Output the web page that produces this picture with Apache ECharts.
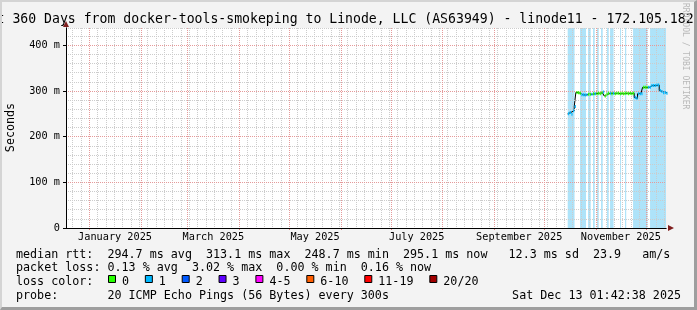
<!DOCTYPE html>
<html><head><meta charset="utf-8">
<script src="https://cdn.jsdelivr.net/npm/echarts@6/dist/echarts.min.js"></script>
<style>
html,body{margin:0;padding:0;background:#f3f3f3;}
#c{position:absolute;left:0;top:0;width:697px;height:310px;}
#frame{position:absolute;left:0;top:0;width:697px;height:310px;box-sizing:border-box;border-style:solid;border-width:2px 3px 3px 2px;border-color:#d4d4d4 #9e9e9e #9e9e9e #d4d4d4;pointer-events:none;}
</style></head><body>
<div id="c"></div><div id="frame"></div>
<script>
// ---------- data ----------
const chartTitle = 'Last 360 Days from docker-tools-smokeping to Linode, LLC (AS63949) - linode11 - 172.105.182.108';
const chartEnd = [2025, 12, 13, 1, 42, 38];   // Sat Dec 13 01:42:38 2025
const spanDays = 360;
const monthStarts = ['2025-01-01','2025-02-01','2025-03-01','2025-04-01','2025-05-01','2025-06-01',
                     '2025-07-01','2025-08-01','2025-09-01','2025-10-01','2025-11-01','2025-12-01','2026-01-01'];
const monthLabels = ['January 2025','March 2025','May 2025','July 2025','September 2025','November 2025'];
const labelMonthIndex = [0, 2, 4, 6, 8, 10];
const yTickValues = [0, 100, 200, 300, 400];
const yTickLabels = ['0', '100 m', '200 m', '300 m', '400 m'];
const yMax = 438;

// days since 2025-01-01 00:00
const sampleDays = [287,288,289,290,291,292,293,294,295,296,297,298,299,300,301,302,303,304,305,306,
                    307,308,309,310,311,312,313,314,315,316,317,318,319,320,321,322,323,324,325,326,
                    327,328,329,330,331,332,333,334,335,336,337,338,339,340,341,342,343,344,345,346];
const medianMs = [250,253,249,257,266,297,296,295,292,292,291,292,293,293,293,294,294,294,295,294,
                  296,298,289,293,295,295,294,295,294,295,295,294,295,294,295,295,294,295,294,295,
                  286,284,294,294,294,308,308,308,308,308,312,312,312,313,313,301,299,296,297,295];
const lossPings = [1,1,1,1,1,0,0,0,1,1,1,1,0,0,1,0,1,0,0,0,
                   0,1,0,0,0,1,0,1,0,0,0,0,0,0,0,0,0,0,0,0,
                   1,1,1,1,1,0,0,0,1,1,1,1,1,1,1,1,1,1,1,1];
const bandStart = [287.1, 294.5, 299.3, 302.3, 304.7, 307.1, 310.7, 312.5, 318.5, 321.5, 326.3, 336.5];
const bandEnd   = [291.2, 298.1, 300.9, 303.3, 305.7, 308.1, 311.7, 314.6, 319.1, 322.2, 334.9, 346.1];

const lossLabels = ['0','1','2','3','4-5','6-10','11-19','20/20'];
const lossUpper  = [0, 1, 2, 3, 5, 10, 19, 20];
const lossColors = ['#26ff00','#00b8ff','#0059ff','#5e00ff','#ff00ff','#ff5e00','#ff0000','#a10000'];

const footRtt   = 'median rtt:  294.7 ms avg  313.1 ms max  248.7 ms min  295.1 ms now   12.3 ms sd  23.9   am/s';
const footLoss  = 'packet loss: 0.13 % avg  3.02 % max  0.00 % min  0.16 % now';
const footColor = 'loss color:';
const footProbe = 'probe:       20 ICMP Echo Pings (56 Bytes) every 300s';
const footDate  = 'Sat Dec 13 01:42:38 2025';
const watermark = 'RRDTOOL / TOBI OETIKER';
const yUnitName = 'Seconds';

// ---------- helpers ----------
const DAY = 86400000, BASE = Date.UTC(2025, 0, 1);
const dayOf = s => (Date.parse(s + 'T00:00:00Z') - BASE) / DAY;
const endDay = (Date.UTC(chartEnd[0], chartEnd[1]-1, chartEnd[2], chartEnd[3], chartEnd[4], chartEnd[5]) - BASE) / DAY;
const startDay = endDay - spanDays;
const monthDays = monthStarts.map(dayOf).filter(d => d >= startDay && d <= endDay);
const labelDays = labelMonthIndex.map(i => (dayOf(monthStarts[i]) + dayOf(monthStarts[i+1])) / 2);
const minorDays = [];
for (let d = Math.ceil(startDay / 5) * 5; d <= endDay; d += 5) minorDays.push(d);
const lossClass = n => { for (let i = 0; i < lossUpper.length; i++) if (n <= lossUpper[i]) return i; return 7; };

const MONO = '"DejaVu Sans Mono", monospace';
const FS_TITLE = 13.16, FS_LEG = 11.7, FS_AXIS = 10.24, FS_WM = 8.04;
const CW = FS_LEG * 0.6021;
const MAJ = '#e59a9a', MIN = '#cccccc';

const stepData = sampleDays.map((d, i) => [d, medianMs[i]]);
stepData.push([sampleDays[sampleDays.length-1] + 1, medianMs[medianMs.length-1]]);
const segData = sampleDays.map((d, i) => [d, medianMs[i], lossPings[i], (i + 1 < sampleDays.length ? sampleDays[i+1] : d + 1)]);

// ---------- graphic (texts) ----------
const graphic = [];
graphic.push({type:'text', x:-27.2, y:19.5, silent:true,
  style:{text:chartTitle, font:FS_TITLE+'px '+MONO, fill:'#000', align:'left', verticalAlign:'middle'}});
graphic.push({type:'text', x:685.5, y:3, rotation:-Math.PI/2, silent:true,
  style:{text:watermark, font:FS_WM+'px '+MONO, fill:'#b8b8b8', align:'left', verticalAlign:'middle'}});
graphic.push({type:'text', x:11, y:127.5, rotation:Math.PI/2, silent:true,
  style:{text:yUnitName, font:FS_LEG+'px '+MONO, fill:'#000', align:'center', verticalAlign:'middle'}});
const rowY = [254.8, 268.3, 281.8, 295.5];
[footRtt, footLoss, footColor, footProbe].forEach((t, i) => {
  graphic.push({type:'text', x:16, y:rowY[i], silent:true,
    style:{text:t, font:FS_LEG+'px '+MONO, fill:'#000', align:'left', verticalAlign:'middle'}});
});
graphic.push({type:'text', x:681, y:rowY[3], silent:true,
  style:{text:footDate, font:FS_LEG+'px '+MONO, fill:'#000', align:'right', verticalAlign:'middle'}});
let sx = 108;
lossLabels.forEach((lab, i) => {
  graphic.push({type:'rect', silent:true, shape:{x:sx+0.5, y:275.5, width:7, height:7},
    style:{fill:lossColors[i], stroke:'#000', lineWidth:1}});
  const lx = sx + 14;
  graphic.push({type:'text', x:lx, y:rowY[2], silent:true,
    style:{text:lab, font:FS_LEG+'px '+MONO, fill:'#000', align:'left', verticalAlign:'middle'}});
  sx = lx + lab.length * CW + 15.8;
});

// ---------- chart ----------
const chart = echarts.init(document.getElementById('c'), null, {renderer:'canvas'});
const common = {type:'value', min:startDay, max:endDay, position:'bottom', gridIndex:0};
chart.setOption({
  animation:false,
  backgroundColor:'transparent',
  grid:{left:66, top:28, width:600, height:200, show:true, backgroundColor:'#ffffff', borderWidth:0, containLabel:false, outerBoundsMode:'none'},
  xAxis:[
    Object.assign({}, common, {z:5,
      axisLine:{show:true, onZero:false, lineStyle:{color:'#000', width:1}},
      axisTick:{show:false},
      axisLabel:{show:true, customValues:labelDays, margin:4, color:'#000', fontFamily:MONO, fontSize:FS_AXIS,
        formatter:(v) => { const k = labelDays.findIndex(x => Math.abs(x - v) < 1e-6); return k >= 0 ? monthLabels[k] : ''; }},
      splitLine:{show:false}}),
    Object.assign({}, common, {z:3,
      axisLine:{show:false}, axisTick:{show:false, customValues:minorDays}, axisLabel:{show:false},
      splitLine:{show:true, lineStyle:{color:MIN, width:1, type:[1,1]}}}),
    Object.assign({}, common, {z:4,
      axisLine:{show:true, onZero:false, symbol:['none','triangle'], symbolSize:[6,6], symbolOffset:[0,5], lineStyle:{color:'#7f1f1f', width:1}},
      axisTick:{show:true, customValues:monthDays, length:2, lineStyle:{color:'#e08080'}}, axisLabel:{show:false},
      splitLine:{show:true, lineStyle:{color:MAJ, width:1, type:[1,1]}}})
  ],
  yAxis:[
    {type:'value', min:0, max:yMax, interval:20, position:'left', z:3,
      axisLine:{show:false}, axisTick:{show:false}, axisLabel:{show:false},
      splitLine:{show:true, lineStyle:{color:MIN, width:1, type:[1,1]}}},
    {type:'value', min:0, max:yMax, position:'left', z:4,
      axisLine:{show:true, onZero:false, symbol:['none','triangle'], symbolSize:[6,6], symbolOffset:[0,4], lineStyle:{color:'#7f1f1f', width:1}},
      axisTick:{show:true, customValues:yTickValues, length:3, lineStyle:{color:'#000'}},
      axisLabel:{show:true, customValues:yTickValues, margin:6, color:'#000', fontFamily:MONO, fontSize:FS_AXIS,
        formatter:(v) => { const k = yTickValues.indexOf(v); return k >= 0 ? yTickLabels[k] : ''; }},
      splitLine:{show:true, lineStyle:{color:MAJ, width:1, type:[1,1]}}},
    {type:'value', min:0, max:yMax, position:'left', z:5,
      axisLine:{show:true, onZero:false, lineStyle:{color:'#000', width:1}},
      axisTick:{show:false}, axisLabel:{show:false}, splitLine:{show:false}}
  ],
  series:[
    {type:'custom', name:'bands', xAxisIndex:0, yAxisIndex:0, z:1, silent:true,
      data: bandStart.map((s, i) => [s, bandEnd[i]]),
      encode:{x:[0,1]},
      renderItem:(params, api) => {
        const p0 = api.coord([api.value(0), yMax]);
        const p1 = api.coord([api.value(1), 0]);
        const cs = params.coordSys;
        const x0 = Math.max(p0[0], cs.x), x1 = Math.min(p1[0], cs.x + cs.width);
        return {type:'rect', shape:{x:x0, y:p0[1], width:x1 - x0, height:p1[1] - p0[1]},
          style:{fill:'#aee3f9'}};
      }},
    {type:'line', name:'median', xAxisIndex:0, yAxisIndex:0, z:2, step:'end', showSymbol:false, silent:true,
      data: stepData, lineStyle:{color:'#000', width:1}},
    {type:'custom', name:'loss', xAxisIndex:0, yAxisIndex:0, z:6, silent:true,
      data: segData, encode:{x:[0,3], y:1},
      renderItem:(params, api) => {
        const a = api.coord([api.value(0), api.value(1)]);
        const b = api.coord([api.value(3), api.value(1)]);
        return {type:'rect', z2:10, shape:{x:a[0] + 0.5, y:a[1] - 1.5, width:Math.max(b[0] - a[0] - 0.5, 1), height:3},
          style:{fill:lossColors[lossClass(api.value(2))]}};
      }}
  ],
  graphic: graphic
});
</script></body></html>
